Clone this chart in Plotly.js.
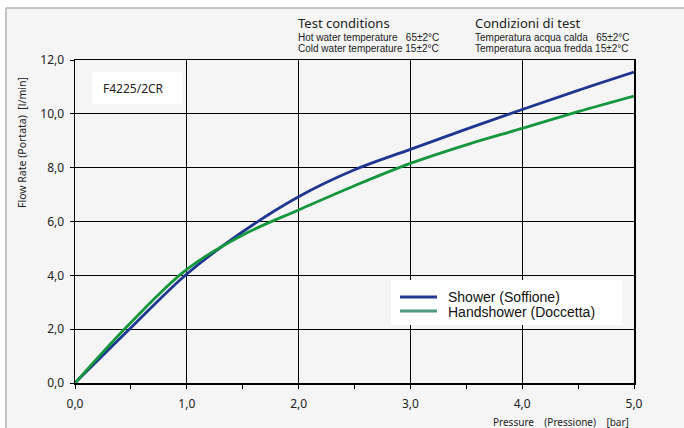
<!DOCTYPE html>
<html><head><meta charset="utf-8">
<script src="https://cdn.plot.ly/plotly-3.0.1.min.js"></script>
<style>html,body{margin:0;padding:0;background:#fff}</style>
</head><body>
<div id="chart" style="width:684px;height:428px"></div>
<script>
const pressure = [0, 0.5, 1.0, 1.5, 2.0, 2.5, 3.0, 3.5, 4.0, 4.5, 5.0];
const showerFlow = [0, 2.05, 4.05, 5.62, 6.92, 7.92, 8.68, 9.43, 10.16, 10.87, 11.55];
const handshowerFlow = [0, 2.25, 4.22, 5.5, 6.43, 7.33, 8.16, 8.85, 9.46, 10.08, 10.66];
const seriesNames = ['Shower (Soffione)', 'Handshower (Doccetta)'];
const xTicks = [0, 1, 2, 3, 4, 5];
const yTicks = [0, 2, 4, 6, 8, 10, 12];

const blue = '#1f3690', green = '#14973c';
const traces = [
  {x: pressure, y: showerFlow, mode: 'lines', name: seriesNames[0], line: {color: blue, width: 2.8, shape: 'spline', smoothing: 1}, showlegend: false},
  {x: pressure, y: handshowerFlow, mode: 'lines', name: seriesNames[1], line: {color: green, width: 2.8, shape: 'spline', smoothing: 1}, showlegend: false}
];
const px = v => (v - 75) / 559;   // pixel x -> paper
const py = v => (383 - v) / 323;  // pixel y -> paper
const fTick = {family: 'Noto Sans, Open Sans, sans-serif', size: 12, color: '#222'};
const fArial = 'Liberation Sans, Arial, sans-serif';
const fNoto = 'Noto Sans, Open Sans, sans-serif';
const ann = (text, x, y, font, extra) => Object.assign({text, xref: 'paper', yref: 'paper', x: px(x), y: py(y), showarrow: false,
  xanchor: 'left', yanchor: 'middle', font}, extra || {});
const layout = {
  width: 684, height: 428,
  margin: {l: 75, r: 50, t: 60, b: 45},
  paper_bgcolor: '#f5f5f5', plot_bgcolor: '#f5f5f5',
  separators: ',.',
  showlegend: false,
  xaxis: {range: [0, 5], tickvals: xTicks, tickformat: '.1f', showgrid: true, gridcolor: '#000', gridwidth: 1,
    showline: true, linecolor: '#000', linewidth: 1.5, mirror: true, ticks: 'outside', ticklen: 4, tickcolor: '#000',
    ticklabelstandoff: 5, tickfont: fTick, zeroline: false, fixedrange: true,
    minor: {tickvals: [0.5, 1.5, 2.5, 3.5, 4.5], ticks: 'outside', ticklen: 4, tickcolor: '#000', showgrid: false}},
  yaxis: {range: [0, 12], tickvals: yTicks, tickformat: '.1f', showgrid: true, gridcolor: '#000', gridwidth: 1,
    showline: true, linecolor: '#000', linewidth: 1.5, mirror: true, ticks: 'outside', ticklen: 4, tickcolor: '#000',
    ticklabelstandoff: 3, tickfont: fTick, zeroline: false, fixedrange: true},
  shapes: [
    {type: 'rect', xref: 'paper', yref: 'paper', x0: -0.2, x1: 1.2, y0: py(8), y1: 1.3, fillcolor: '#fff', line: {width: 0}},
    {type: 'rect', xref: 'paper', yref: 'paper', x0: -0.2, x1: px(6), y0: -0.3, y1: 1.3, fillcolor: '#fff', line: {width: 0}},
    {type: 'line', xref: 'paper', yref: 'paper', x0: px(6), x1: 1.2, y0: py(8), y1: py(8), line: {color: '#c4c4c4', width: 2}},
    {type: 'line', xref: 'paper', yref: 'paper', x0: px(6), x1: px(6), y0: -0.3, y1: py(8), line: {color: '#c4c4c4', width: 2}},
    {type: 'rect', xref: 'paper', yref: 'paper', x0: px(92), x1: px(182), y0: py(104), y1: py(72), fillcolor: '#fff', line: {width: 0}},
    // legend box and keys
    {type: 'rect', xref: 'paper', yref: 'paper', x0: px(391), x1: px(622), y0: py(325), y1: py(280), fillcolor: '#fff', line: {width: 0}},
    {type: 'line', xref: 'paper', yref: 'paper', x0: px(400), x1: px(437), y0: py(297), y1: py(297), line: {color: '#233b90', width: 3}},
    {type: 'line', xref: 'paper', yref: 'paper', x0: px(400), x1: px(437), y0: py(311), y1: py(311), line: {color: '#4f9a80', width: 3}}
  ],
  annotations: [
    ann(seriesNames[0], 446, 297, {family: fArial, size: 14, color: '#111'}),
    ann(seriesNames[1], 446, 312, {family: fArial, size: 14, color: '#111'}),
    ann('F4225/2CR', 133, 88, {family: fNoto, size: 12, color: '#222'}, {xanchor: 'center'}),
    ann('Flow Rate (Portata)\u00a0\u00a0[l/min]', 22, 143, {family: fNoto, size: 10.5, color: '#222'}, {xanchor: 'center', textangle: -90}),
    ann('Pressure\u00a0\u00a0\u00a0\u00a0(Pressione)\u00a0\u00a0\u00a0\u00a0[bar]', 491, 422, {family: fNoto, size: 10, color: '#222'}),
    ann('Test conditions', 296, 23, {family: fNoto, size: 13, color: '#222'}),
    ann('Hot water temperature\u00a0\u00a0\u00a065±2°C', 296, 37, {family: fArial, size: 10, color: '#222'}),
    ann('Cold water temperature 15±2°C', 296, 48, {family: fArial, size: 10, color: '#222'}),
    ann('Condizioni di test', 473, 23, {family: fNoto, size: 13, color: '#222'}),
    ann('Temperatura acqua calda\u00a0\u00a0\u00a065±2°C', 473, 37, {family: fArial, size: 10, color: '#222'}),
    ann('Temperatura acqua fredda 15±2°C', 473, 48, {family: fArial, size: 10, color: '#222'})
  ]
};
Plotly.newPlot('chart', traces, layout, {displayModeBar: false, staticPlot: true});
</script>
</body></html>
